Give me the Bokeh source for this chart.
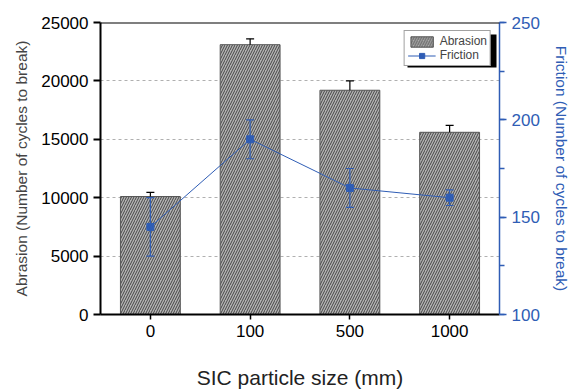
from bokeh.plotting import figure
from bokeh.models import (Range1d, LinearAxis, SingleIntervalTicker, ColumnDataSource,
                          Whisker, TeeHead, Legend, LegendItem, BoxAnnotation, Span)
from bokeh.embed import file_html
from bokeh.resources import INLINE

sizes = ["0", "100", "500", "1000"]
abrasion = [10100, 23100, 19200, 15600]
abrasion_err = [350, 500, 800, 600]
friction = [145, 190, 165, 160]
friction_err = [15, 10, 10, 4]

BLUE = "#2F5DB5"
FONT = "Liberation Sans"
Y_MAX = 25000

src = ColumnDataSource(dict(
    x=sizes, ab=abrasion,
    ab_lo=[a - e for a, e in zip(abrasion, abrasion_err)],
    ab_hi=[a + e for a, e in zip(abrasion, abrasion_err)],
    fr=friction,
    fr_lo=[f - e for f, e in zip(friction, friction_err)],
    fr_hi=[f + e for f, e in zip(friction, friction_err)],
))

p = figure(x_range=sizes, y_range=Range1d(0, Y_MAX), frame_width=399, frame_height=292,
           output_backend="svg", toolbar_location=None,
           min_border_left=100, min_border_right=10, min_border_top=22, min_border_bottom=10)
p.outline_line_color = None
p.extra_y_ranges = {"fr": Range1d(100, 250)}

bars = p.vbar(x="x", top="ab", width=0.6, source=src, fill_color="#b4b4b4",
              line_color="#555555", line_width=1,
              hatch_pattern="/", hatch_color="#454545", hatch_scale=5, hatch_weight=1)

p.add_layout(Whisker(source=src, base="x", lower="ab", upper="ab_hi", line_color="black",
                     line_width=1.2, level="annotation",
                     upper_head=TeeHead(size=8, line_color="black", line_width=1.2),
                     lower_head=None))

line = p.line(x="x", y="fr", source=src, y_range_name="fr", line_color=BLUE, line_width=1)
p.add_layout(Whisker(source=src, base="x", lower="fr_lo", upper="fr_hi", y_range_name="fr",
                     line_color=BLUE, line_width=1.2, level="annotation",
                     upper_head=TeeHead(size=8, line_color=BLUE, line_width=1.2),
                     lower_head=TeeHead(size=8, line_color=BLUE, line_width=1.2)))
pts = p.scatter(x="x", y="fr", source=src, y_range_name="fr", marker="square", size=7,
                fill_color=BLUE, line_color=BLUE, level="annotation")

# left axis
yl = p.yaxis[0]
yl.ticker = SingleIntervalTicker(interval=5000, num_minor_ticks=0)
yl.axis_label = "Abrasion (Number of cycles to break)"
yl.axis_line_width = 2
yl.axis_line_color = "black"
yl.major_tick_line_width = 2
yl.major_tick_out = 7
yl.major_tick_in = 0
yl.minor_tick_line_color = None
yl.major_label_text_font = FONT
yl.major_label_text_font_size = "17px"
yl.major_label_text_color = "black"
yl.axis_label_text_font = FONT
yl.axis_label_text_font_size = "15.5px"
yl.axis_label_text_font_style = "normal"
yl.axis_label_standoff = 8

# bottom axis
xa = p.xaxis[0]
xa.axis_line_width = 2
xa.axis_line_color = "black"
xa.major_tick_line_width = 1.5
xa.major_tick_out = 5
xa.major_tick_in = 0
xa.major_label_text_font = FONT
xa.major_label_text_font_size = "17px"
xa.major_label_text_color = "black"
xa.axis_label = "SIC particle size (mm)"
xa.axis_label_text_font = FONT
xa.axis_label_text_font_size = "21px"
xa.axis_label_text_font_style = "normal"
xa.axis_label_text_color = "#222222"
xa.axis_label_standoff = 26

# top border
p.add_layout(Span(location=Y_MAX, dimension="width", line_color="black", line_width=2))

# right axis
yr = LinearAxis(y_range_name="fr", axis_label="Friction (Number of cycles to break)",
                ticker=SingleIntervalTicker(interval=50, num_minor_ticks=2))
yr.axis_line_color = BLUE
yr.axis_line_width = 1.5
yr.major_tick_line_color = BLUE
yr.major_tick_line_width = 1.5
yr.major_tick_out = 7
yr.major_tick_in = 0
yr.minor_tick_line_color = BLUE
yr.minor_tick_line_width = 1.5
yr.minor_tick_out = 5
yr.minor_tick_in = 0
yr.major_label_text_color = BLUE
yr.major_label_text_font = FONT
yr.major_label_text_font_size = "17px"
yr.axis_label_text_color = BLUE
yr.axis_label_text_font = FONT
yr.axis_label_text_font_size = "15.5px"
yr.axis_label_text_font_style = "normal"
yr.axis_label_standoff = 10
p.add_layout(yr, "right")

# grid
p.xgrid.grid_line_color = None
p.ygrid.grid_line_color = "#b0b0b0"
p.ygrid.grid_line_dash = "3 3"
p.ygrid.grid_line_width = 1

# legend shadow (screen units relative to frame bottom-left)
shadow = BoxAnnotation(left=307, right=396, top=280, bottom=247,
                       left_units="screen", right_units="screen",
                       top_units="screen", bottom_units="screen",
                       fill_color="black", fill_alpha=1, line_color=None, level="overlay")
p.add_layout(shadow)

legend = Legend(items=[LegendItem(label="Abrasion", renderers=[bars]),
                       LegendItem(label="Friction", renderers=[line, pts])],
                location="top_right", margin=8, padding=3, spacing=0,
                glyph_width=28, glyph_height=13, label_height=13,
                label_text_font=FONT, label_text_font_size="12px",
                label_standoff=4,
                border_line_color="#444444", border_line_width=1,
                background_fill_alpha=1, background_fill_color="white")
p.add_layout(legend)

open("out.html", "w").write(file_html(p, INLINE))
